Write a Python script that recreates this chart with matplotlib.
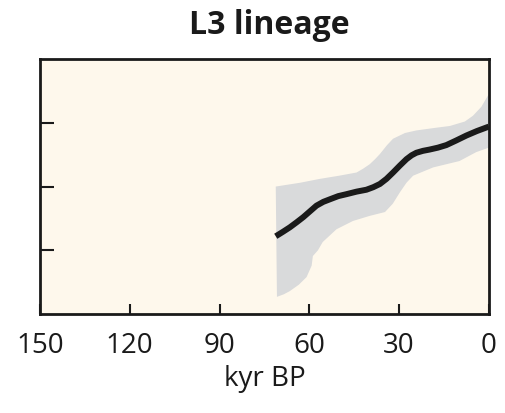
import numpy as np
import matplotlib.pyplot as plt

# values (x in kyr BP, y in plot units)
line_x = [71.2, 68.8, 66.5, 64.2, 62.0, 59.8, 57.6, 55.3, 53.1, 50.3, 47.6, 44.2, 40.9, 38.6, 36.4, 34.2, 32.0, 29.7, 27.5, 25.8, 24.2, 22.0, 19.8, 17.0, 14.2, 11.0, 7.5, 4.0, 0.0]
line_y = [1.22, 1.29, 1.36, 1.44, 1.52, 1.61, 1.70, 1.76, 1.80, 1.85, 1.88, 1.92, 1.95, 1.99, 2.04, 2.12, 2.22, 2.33, 2.43, 2.49, 2.53, 2.56, 2.58, 2.61, 2.65, 2.72, 2.80, 2.87, 2.94]

upper_x = [71.2, 63.0, 56.5, 50.0, 44.2, 42.0, 39.8, 38.0, 36.4, 34.0, 32.0, 28.0, 24.2, 18.0, 13.0, 8.0, 5.3, 2.5, 0.0]
upper_y = [2.00, 2.06, 2.12, 2.17, 2.22, 2.28, 2.35, 2.43, 2.51, 2.65, 2.75, 2.84, 2.88, 2.92, 2.95, 3.02, 3.11, 3.25, 3.45]

lower_x = [71.2, 70.8, 68.5, 66.5, 63.5, 60.9, 59.2, 58.8, 57.1, 55.5, 50.9, 45.4, 39.8, 34.7, 32.1, 29.7, 27.5, 25.3, 18.6, 9.8, 4.2, 0.0]
lower_y = [2.00, 0.27, 0.31, 0.36, 0.46, 0.58, 0.76, 0.91, 1.00, 1.13, 1.33, 1.46, 1.54, 1.60, 1.73, 1.91, 2.06, 2.17, 2.30, 2.40, 2.54, 2.61]

xticks = [150, 120, 90, 60, 30, 0]
yticks = [1, 2, 3]

plt.rcParams['font.family'] = ['Open Sans', 'DejaVu Sans']

fig = plt.figure(figsize=(5.06, 4.14), dpi=100)
ax = fig.add_axes([0.079, 0.239, 0.887, 0.616])
ax.set_facecolor('#fef8ec')

# shaded band: upper edge then lower edge back
band_x = upper_x + lower_x[::-1]
band_y = upper_y + lower_y[::-1]
ax.fill(band_x, band_y, color='#d9dadb', lw=0)
ax.plot(line_x, line_y, color='#1a1a1a', lw=4.3, solid_capstyle='butt', solid_joinstyle='round')

ax.set_xlim(150, 0)
ax.set_ylim(0, 4)
ax.set_xticks(xticks)
ax.set_xticklabels([str(t) for t in xticks])
ax.set_yticks(yticks)
ax.set_yticklabels([])
ax.tick_params(direction='in', length=7, width=1.5, labelsize=20, pad=12, colors='#1a1a1a')
ax.tick_params(axis='y', length=10)
for s in ax.spines.values():
    s.set_linewidth(2)
    s.set_color('#1a1a1a')

ax.set_xlabel('kyr BP', fontsize=20, color='#1a1a1a', labelpad=4)
fig.text(0.532, 0.918, 'L3 lineage', ha='center', va='baseline', fontsize=23, fontweight='bold', color='#1a1a1a')

fig.savefig('out.png', dpi=100)
